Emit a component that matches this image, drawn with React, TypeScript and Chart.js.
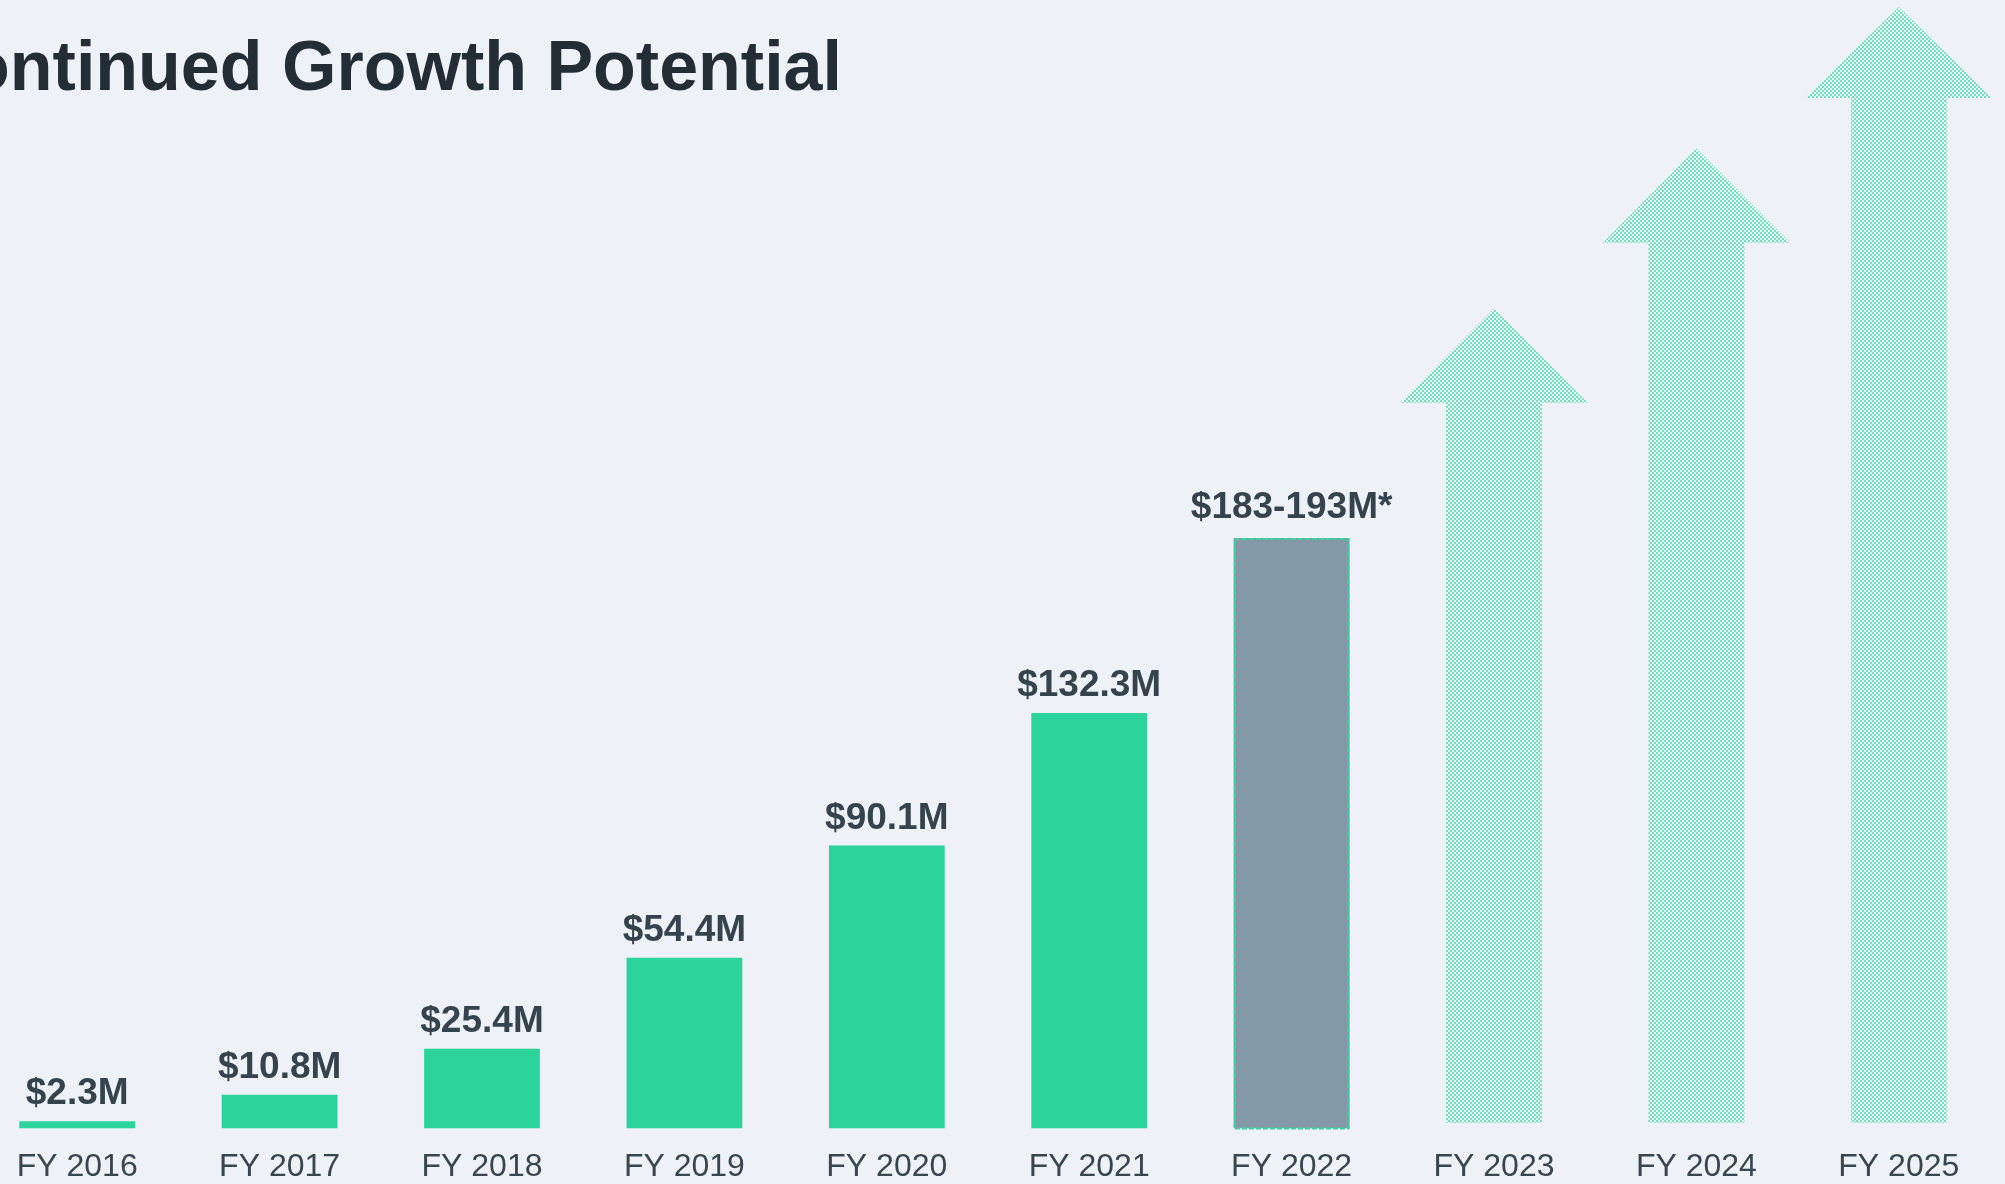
import React, { useEffect, useRef } from "react";
import { Chart, registerables } from "chart.js";

Chart.register(...registerables);

const titleText = "Continued Growth Potential";
const categories = ["FY 2016", "FY 2017", "FY 2018", "FY 2019", "FY 2020", "FY 2021", "FY 2022", "FY 2023", "FY 2024", "FY 2025"];
const revenue = [2.3, 10.8, 25.4, 54.4, 90.1, 132.3, 188, null, null, null];
const valueLabels = ["$2.3M", "$10.8M", "$25.4M", "$54.4M", "$90.1M", "$132.3M", "$183-193M*", "", "", ""];
const arrowBase = [null, null, null, null, null, null, null, 1.9, 1.9, 1.9];
const arrowShaftTop = [null, null, null, null, null, null, null, 231, 282, 328];
const arrowTip = [null, null, null, null, null, null, null, 261, 312, 357];
const yMax = 357;

const BG = "#eef1f5";
const GREEN = "#2bd49b";
const GRAY = "#8499a7";
const DASH = "#35d6a2";
const PATTERN_GREEN = "#6de2bd";
const LABEL = "#34444f";
const AXIS_LABEL = "#37474f";
const TITLE = "#222d35";
const FONT = '"Liberation Sans", Arial, sans-serif';

const CANVAS_LEFT = -124;
const CANVAS_W = 2129;
const CANVAS_H = 1205;

function makePattern(): CanvasPattern | string {
  const c = document.createElement("canvas");
  c.width = 4;
  c.height = 4;
  const g = c.getContext("2d");
  if (!g) return PATTERN_GREEN;
  g.fillStyle = PATTERN_GREEN;
  g.fillRect(0, 0, 2, 2);
  g.fillRect(2, 2, 2, 2);
  const p = g.createPattern(c, "repeat");
  return p || PATTERN_GREEN;
}

export default function App() {
  const ref = useRef<HTMLCanvasElement | null>(null);

  useEffect(() => {
    const canvas = ref.current;
    if (!canvas) return;
    const pattern = makePattern();

    const overlay = {
      id: "overlay",
      afterDatasetsDraw(chart: any) {
        const ctx = chart.ctx as CanvasRenderingContext2D;
        const yScale = chart.scales.y;
        // arrow heads
        const meta1 = chart.getDatasetMeta(1);
        ctx.save();
        ctx.fillStyle = pattern as any;
        meta1.data.forEach((el: any, i: number) => {
          if (arrowTip[i] == null || arrowShaftTop[i] == null) return;
          const tipY = yScale.getPixelForValue(arrowTip[i]);
          const baseY = yScale.getPixelForValue(arrowShaftTop[i]);
          const half = el.width * 0.975;
          ctx.beginPath();
          ctx.moveTo(el.x - half, baseY);
          ctx.lineTo(el.x, tipY);
          ctx.lineTo(el.x + half, baseY);
          ctx.closePath();
          ctx.fill();
        });
        ctx.restore();

        // dashed outline for the guidance bar + value labels
        const meta0 = chart.getDatasetMeta(0);
        ctx.save();
        meta0.data.forEach((el: any, i: number) => {
          if (revenue[i] == null) return;
          if (i === 6) {
            ctx.save();
            ctx.strokeStyle = DASH;
            ctx.lineWidth = 2;
            ctx.setLineDash([5, 2]);
            const left = el.x - el.width / 2;
            ctx.strokeRect(left + 1, el.y + 1, el.width - 2, el.base - el.y - 1);
            ctx.restore();
          }
          ctx.fillStyle = LABEL;
          ctx.font = `bold 37px ${FONT}`;
          ctx.textAlign = "center";
          ctx.textBaseline = "alphabetic";
          const gap = i === 6 ? 20 : 17;
          ctx.fillText(valueLabels[i], el.x, el.y - gap);
        });
        ctx.restore();

        // title
        ctx.save();
        ctx.fillStyle = TITLE;
        ctx.font = `bold 70px ${FONT}`;
        ctx.textAlign = "right";
        ctx.textBaseline = "alphabetic";
        ctx.fillText(titleText, 842 - CANVAS_LEFT, 90);
        ctx.restore();
      },
    };

    const chart = new Chart(canvas, {
      type: "bar",
      data: {
        labels: categories,
        datasets: [
          {
            label: "Revenue",
            data: revenue as any,
            backgroundColor: categories.map((_, i) => (i === 6 ? GRAY : GREEN)),
            borderWidth: 0,
            barPercentage: 0.572,
            categoryPercentage: 1,
            grouped: false,
          } as any,
          {
            label: "Growth outlook",
            data: categories.map((_, i) =>
              arrowShaftTop[i] == null ? null : [arrowBase[i], arrowShaftTop[i]]
            ) as any,
            backgroundColor: pattern as any,
            borderWidth: 0,
            barPercentage: 0.474,
            categoryPercentage: 1,
            grouped: false,
          } as any,
        ],
      },
      options: {
        responsive: false,
        animation: false,
        devicePixelRatio: 1,
        layout: { padding: { left: 100, right: 5, top: 7, bottom: 0 } },
        plugins: {
          legend: { display: false },
          tooltip: { enabled: false },
          title: { display: false },
        },
        scales: {
          x: {
            grid: { display: false, drawTicks: false },
            border: { display: false },
            ticks: {
              color: AXIS_LABEL,
              font: { family: FONT, size: 32 },
              padding: 19,
              maxRotation: 0,
              autoSkip: false,
            },
          },
          y: {
            display: false,
            min: 0,
            max: yMax,
          },
        },
      },
      plugins: [overlay],
    });

    return () => chart.destroy();
  }, []);

  return (
    <div
      style={{
        position: "fixed",
        left: 0,
        top: 0,
        width: 2005,
        height: 1184,
        overflow: "hidden",
        background: BG,
      }}
    >
      <canvas
        ref={ref}
        width={CANVAS_W}
        height={CANVAS_H}
        style={{ position: "absolute", left: CANVAS_LEFT, top: 0, width: CANVAS_W, height: CANVAS_H }}
      />
    </div>
  );
}
